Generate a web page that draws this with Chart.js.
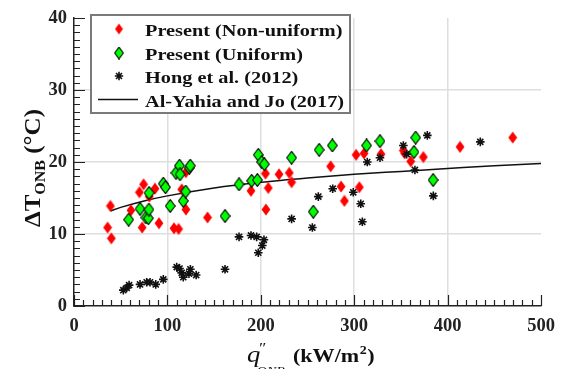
<!DOCTYPE html>
<html><head><meta charset="utf-8">
<script src="https://cdn.jsdelivr.net/npm/chart.js@4/dist/chart.umd.min.js"></script>
<style>html,body{margin:0;padding:0;background:#fff;}#wrap{width:564px;height:369px;position:relative;}</style>
</head><body><div id="wrap"><canvas id="c" width="564" height="369"></canvas></div>
<script>
// ---- data ----
const nonUniformX = [36, 39, 40, 61, 70, 73, 74.5, 80.6, 86.7, 91, 107, 112, 115.3, 119.8, 119.8, 143, 189.5, 205, 208, 205.5, 219.5, 230.5, 233, 274.8, 286, 289.5, 302, 305.5, 310.5, 328.7, 352.6, 354, 360.5, 374, 413.3, 469.7];
const nonUniformY = [10.9, 13.9, 9.4, 13.3, 15.8, 10.9, 16.9, 15.2, 16.3, 11.5, 10.8, 10.7, 16.2, 18.6, 13.4, 12.3, 16.0, 18.4, 16.4, 13.4, 18.3, 18.5, 17.2, 19.4, 16.6, 14.6, 21.0, 16.5, 21.2, 21.1, 21.6, 21.2, 20.1, 20.7, 22.1, 23.4];
const uniformX = [58.5, 70.7, 77, 79.6, 80.2, 80.3, 95.6, 97.9, 103, 109.2, 113, 113.5, 117, 119.6, 123.5, 124.5, 161.7, 176.7, 190.2, 196.3, 197.3, 201, 203.8, 233, 256.2, 262.5, 276.6, 313.3, 327.6, 364, 365.8, 384.5];
const uniformY = [12.0, 13.5, 12.3, 12.2, 13.4, 15.7, 17.0, 16.5, 13.9, 18.5, 19.5, 18.3, 14.6, 15.9, 19.2, 19.5, 12.5, 16.9, 17.4, 17.5, 21.0, 20.0, 19.7, 20.6, 13.1, 21.7, 22.3, 22.3, 22.9, 21.4, 23.4, 17.5];
const hongX = [52.8, 56.4, 59, 70.7, 77.8, 81.4, 87.5, 95.6, 110, 113, 115.3, 117, 123.1, 124.6, 130.8, 161.7, 176.7, 189.5, 195.6, 197.3, 201.6, 203.4, 233, 255.2, 261.6, 277, 299, 307, 308.7, 314, 327.6, 352.6, 356.2, 365, 378.3, 384.7, 435];
const hongY = [2.2, 2.5, 2.9, 3.0, 3.3, 3.3, 3.0, 3.7, 5.4, 5.2, 4.6, 4.0, 4.5, 5.1, 4.3, 5.1, 9.6, 9.8, 9.6, 7.4, 8.4, 9.2, 12.1, 10.9, 15.2, 16.3, 15.8, 14.2, 11.7, 20.0, 20.6, 22.3, 21.1, 18.9, 23.7, 15.3, 22.8];
const corrX = [39, 50, 75, 100, 150, 200, 250, 300, 350, 400, 450, 500];
const corrY = [13.2, 13.7, 14.6, 15.3, 16.4, 17.2, 17.8, 18.3, 18.7, 19.1, 19.5, 19.8];
const xTicks = [0, 100, 200, 300, 400, 500];
const yTicks = [0, 10, 20, 30, 40];
const seriesNames = ['Present (Non-uniform)', 'Present (Uniform)', 'Hong et al. (2012)', 'Al-Yahia and Jo (2017)'];

const SERIF = '"Liberation Serif", "Times New Roman", serif';
const SX = 1.16;

function diamond(w, h, fill, stroke) {
  const c = document.createElement('canvas');
  c.width = w; c.height = h;
  const g = c.getContext('2d');
  g.beginPath();
  g.moveTo(w / 2, 0.6); g.lineTo(w - 0.6, h / 2); g.lineTo(w / 2, h - 0.6); g.lineTo(0.6, h / 2);
  g.closePath();
  g.fillStyle = fill; g.fill();
  if (stroke) { g.lineWidth = 1.1; g.strokeStyle = stroke; g.stroke(); }
  return c;
}
const redD = diamond(10, 13, '#ff0000', null);
const greenD = diamond(11, 14, '#00ff00', '#000');
const redL = diamond(9, 12, '#ff0000', null);
const greenL = diamond(10, 13, '#00ff00', '#000');

const zip = (xs, ys) => xs.map((x, i) => ({x, y: ys[i]}));

function drawStar(ctx, x, y, r) {
  ctx.save();
  ctx.strokeStyle = '#111'; ctx.lineWidth = 1.6;
  ctx.beginPath();
  for (let k = 0; k < 4; k++) {
    const a = k * Math.PI / 4;
    ctx.moveTo(x - r * Math.cos(a), y - r * Math.sin(a));
    ctx.lineTo(x + r * Math.cos(a), y + r * Math.sin(a));
  }
  ctx.stroke();
  ctx.restore();
}

const decor = {
  id: 'decor',
  beforeDatasetsDraw(chart) {
    const {ctx, chartArea: a, scales: {x, y}} = chart;
    ctx.save();
    ctx.strokeStyle = '#222'; ctx.lineWidth = 1.2;
    ctx.beginPath();
    for (let v = 0; v <= 500; v += 10) {
      const px = Math.round(x.getPixelForValue(v)) + 0.5;
      const len = v % 100 === 0 ? 11 : 6;
      ctx.moveTo(px, a.bottom); ctx.lineTo(px, a.bottom - len);
    }
    for (let v = 0; v <= 40; v += 1) {
      const py = Math.round(y.getPixelForValue(v)) + 0.5;
      const len = v % 10 === 0 ? 11 : 6;
      ctx.moveTo(a.left, py); ctx.lineTo(a.left + len, py);
    }
    ctx.stroke();
    ctx.restore();
  },
  afterDraw(chart) {
    const {ctx} = chart;
    // legend
    ctx.save();
    ctx.fillStyle = '#fff';
    ctx.fillRect(91, 15, 259, 98);
    ctx.strokeStyle = '#7a7a7a'; ctx.lineWidth = 2;
    ctx.strokeRect(91, 15, 259, 98);
    ctx.drawImage(redL, 119 - redL.width / 2, 29 - redL.height / 2);
    ctx.drawImage(greenL, 119 - greenL.width / 2, 53 - greenL.height / 2);
    drawStar(ctx, 119, 76, 4.2);
    ctx.strokeStyle = '#111'; ctx.lineWidth = 1.5;
    ctx.beginPath(); ctx.moveTo(98, 99.5); ctx.lineTo(138, 99.5); ctx.stroke();
    ctx.fillStyle = '#111';
    ctx.font = 'bold 17.5px ' + SERIF;
    ctx.textBaseline = 'alphabetic';
    const base = [36, 60, 83, 107];
    seriesNames.forEach((t, i) => {
      ctx.save(); ctx.translate(145, base[i]); ctx.scale(SX, 1);
      ctx.fillText(t, 0, 0); ctx.restore();
    });
    ctx.restore();

    // x title
    ctx.save();
    ctx.fillStyle = '#111';
    ctx.translate(247, 362); ctx.scale(SX, 1);
    ctx.font = 'italic 23px ' + SERIF;
    ctx.fillText('q', 0, 0);
    const wq = ctx.measureText('q').width;
    ctx.font = 'italic 15px ' + SERIF;
    ctx.fillText('\u2033', wq - 2, -9);
    ctx.font = 'italic 12px ' + SERIF;
    ctx.fillText('ONB', wq - 3, 13);
    let cx = (293 - 247) / SX;
    ctx.font = 'bold 19px ' + SERIF;
    ctx.fillText('(kW/m', cx, 0);
    cx += ctx.measureText('(kW/m').width;
    ctx.font = 'bold 12px ' + SERIF;
    ctx.fillText('2', cx + 0.5, -8);
    cx += ctx.measureText('2').width + 1;
    ctx.font = 'bold 19px ' + SERIF;
    ctx.fillText(')', cx, 0);
    ctx.restore();

    // y title
    ctx.save();
    ctx.fillStyle = '#111';
    ctx.translate(40, 168); ctx.scale(0.92, 1); ctx.rotate(-Math.PI / 2);
    const big = 'bold 25px ' + SERIF, small = 'bold 16px ' + SERIF;
    ctx.font = big; const w1 = ctx.measureText('\u0394T').width;
    ctx.font = small; const w2 = ctx.measureText('ONB').width;
    ctx.font = big; const w3 = ctx.measureText(' (\u00B0C)').width;
    let sx0 = -(w1 + w2 + w3) / 2;
    ctx.font = big; ctx.fillText('\u0394T', sx0, 0);
    ctx.font = small; ctx.fillText('ONB', sx0 + w1, 5);
    ctx.font = big; ctx.fillText(' (\u00B0C)', sx0 + w1 + w2, 0);
    ctx.restore();
  }
};

const gridColor = (max) => (c) => (c.tick && c.tick.value > 0 && c.tick.value < max) ? '#dedede' : 'rgba(0,0,0,0)';

new Chart(document.getElementById('c'), {
  type: 'scatter',
  data: {
    datasets: [
      {label: seriesNames[2], data: zip(hongX, hongY), pointStyle: 'star', pointRadius: 4.3, borderColor: '#111', backgroundColor: '#111', pointBorderWidth: 1.6, order: 1},
      {label: seriesNames[1], data: zip(uniformX, uniformY), pointStyle: greenD, pointRadius: 5, order: 2},
      {label: seriesNames[0], data: zip(nonUniformX, nonUniformY), pointStyle: redD, pointRadius: 5, order: 3},
      {label: seriesNames[3], data: zip(corrX, corrY), showLine: true, pointRadius: 0, borderColor: '#111', borderWidth: 1.5, cubicInterpolationMode: 'monotone', order: 4}
    ]
  },
  options: {
    responsive: false,
    animation: false,
    devicePixelRatio: 1,
    layout: {padding: {left: 0, right: 23, top: 16, bottom: 0}},
    plugins: {legend: {display: false}, tooltip: {enabled: false}},
    scales: {
      x: {
        type: 'linear', min: xTicks[0], max: xTicks[xTicks.length - 1],
        afterBuildTicks: s => { s.ticks = xTicks.map(v => ({value: v})); },
        afterFit: s => { s.height = 63; },
        ticks: {padding: 9, color: '#222', font: {family: SERIF, size: 18.5, weight: 'bold'}},
        grid: {color: gridColor(500), lineWidth: 1.5, drawTicks: false},
        border: {display: true, color: '#222', width: 1.5}
      },
      y: {
        type: 'linear', min: yTicks[0], max: yTicks[yTicks.length - 1],
        afterBuildTicks: s => { s.ticks = yTicks.map(v => ({value: v})); },
        afterFit: s => { s.width = 74; },
        ticks: {padding: 7, color: '#222', font: {family: SERIF, size: 18.5, weight: 'bold'}},
        grid: {color: gridColor(40), lineWidth: 1.5, drawTicks: false},
        border: {display: true, color: '#222', width: 1.5}
      }
    }
  },
  plugins: [decor]
});
</script>
</body></html>
